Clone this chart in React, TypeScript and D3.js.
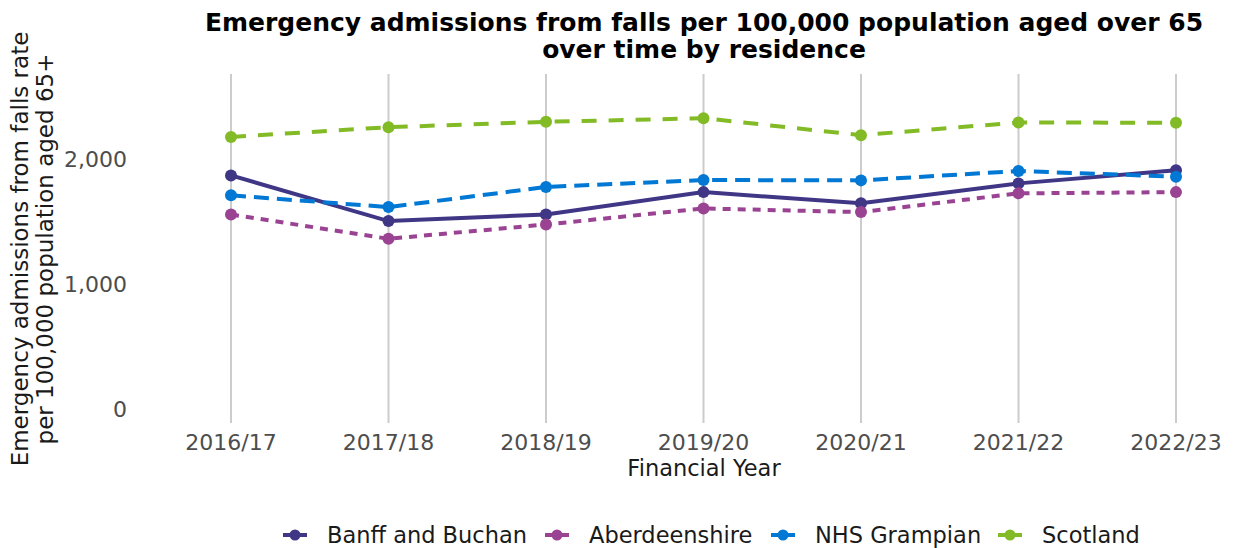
import React from "react";
import * as d3 from "d3";

const years = ["2016/17", "2017/18", "2018/19", "2019/20", "2020/21", "2021/22", "2022/23"];
const banffBuchan = [1871, 1505, 1558, 1737, 1647, 1807, 1912];
const aberdeenshire = [1558, 1363, 1478, 1606, 1577, 1727, 1737];
const nhsGrampian = [1711, 1617, 1778, 1834, 1831, 1906, 1861];
const scotland = [2179, 2257, 2300, 2329, 2193, 2295, 2292];
const yTicks = [0, 1000, 2000];
const seriesNames = ["Banff and Buchan", "Aberdeenshire", "NHS Grampian", "Scotland"];

const colors = ["#3F3685", "#9B4393", "#0078D4", "#83BB26"];
const dashes = ["none", "8,7", "15,8", "15,12"];

const W = 1235;
const H = 548;
const FONT = "'DejaVu Sans', sans-serif";

export default function App() {
  const x = d3.scalePoint<string>().domain(years).range([231, 1176]);
  const y = d3.scaleLinear().domain([0, 2683]).range([409, 74]);
  const all = [banffBuchan, aberdeenshire, nhsGrampian, scotland];
  const line = d3
    .line<number>()
    .x((_, i) => x(years[i]) as number)
    .y((d) => y(d));

  const legendTextX = [327, 589, 815, 1042];

  return (
    <svg
      width={W}
      height={H}
      style={{ position: "absolute", left: 0, top: 0, display: "block", background: "#fff" }}
      fontFamily={FONT}
    >
      {/* vertical grid lines */}
      {years.map((yr) => (
        <line key={yr} x1={x(yr)} x2={x(yr)} y1={74} y2={423} stroke="#cccccc" strokeWidth={2} />
      ))}
      {/* y tick labels */}
      {yTicks.map((t) => (
        <text key={t} x={127} y={y(t)} dy="0.36em" textAnchor="end" fontSize={22} fill="#4d4d4d">
          {d3.format(",")(t)}
        </text>
      ))}
      {/* x tick labels */}
      {years.map((yr) => (
        <text key={yr} x={x(yr)} y={450} textAnchor="middle" fontSize={22} fill="#4d4d4d">
          {yr}
        </text>
      ))}
      <text x={704} y={476} textAnchor="middle" fontSize={22.5} fill="#1a1a1a">
        Financial Year
      </text>
      {/* y axis title */}
      <g transform="translate(0,249) rotate(-90)">
        <text x={0} y={28} textAnchor="middle" fontSize={23} fill="#1a1a1a">
          Emergency admissions from falls rate
        </text>
        <text x={0} y={53} textAnchor="middle" fontSize={23} fill="#1a1a1a">
          per 100,000 population aged 65+
        </text>
      </g>
      {/* title */}
      <text x={704} y={31} textAnchor="middle" fontSize={25} fontWeight="bold" fill="#000">
        Emergency admissions from falls per 100,000 population aged over 65
      </text>
      <text x={704} y={58} textAnchor="middle" fontSize={25} fontWeight="bold" fill="#000">
        over time by residence
      </text>
      {/* series */}
      {all.map((vals, si) => (
        <g key={si}>
          <path
            d={line(vals) as string}
            fill="none"
            stroke={colors[si]}
            strokeWidth={4}
            strokeDasharray={dashes[si]}
          />
          {vals.map((v, i) => (
            <circle key={i} cx={x(years[i])} cy={y(v)} r={6} fill={colors[si]} />
          ))}
        </g>
      ))}
      {/* legend */}
      {seriesNames.map((n, si) => (
        <g key={n} transform={`translate(${legendTextX[si]},535)`}>
          <line x1={-44} x2={-20} y1={0} y2={0} stroke={colors[si]} strokeWidth={4} />
          <circle cx={-32} cy={0} r={5.5} fill={colors[si]} />
          <text x={0} y={0} dy="0.36em" fontSize={22.5} fill="#1a1a1a">
            {n}
          </text>
        </g>
      ))}
    </svg>
  );
}
